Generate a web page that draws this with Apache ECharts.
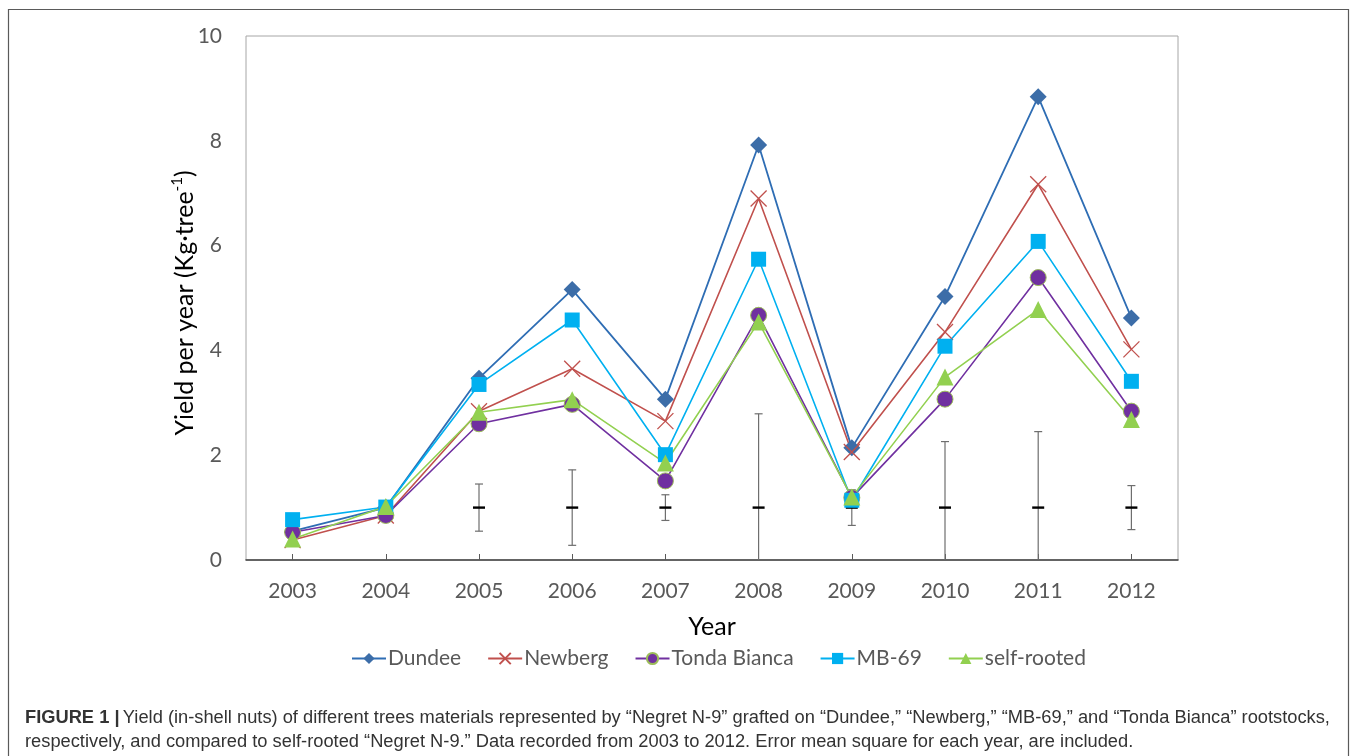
<!DOCTYPE html>
<html>
<head>
<meta charset="utf-8">
<title>Yield per year</title>
<script src="https://cdn.jsdelivr.net/npm/echarts@6/dist/echarts.min.js"></script>
<style>
  html, body { margin: 0; padding: 0; background: #fff; }
  #chart { width: 1357px; height: 756px; }
</style>
</head>
<body>
<div id="chart"></div>
<script>
// Harvest years
const years = ['2003', '2004', '2005', '2006', '2007', '2008', '2009', '2010', '2011', '2012'];

// Yield per year (kg per tree) for each rootstock
const dundee      = [0.55, 1.00, 3.47, 5.16, 3.07, 7.92, 2.14, 5.03, 8.84, 4.62];
const newberg     = [0.38, 0.85, 2.84, 3.65, 2.65, 6.90, 2.06, 4.35, 7.17, 4.02];
const tondaBianca = [0.53, 0.85, 2.60, 2.97, 1.51, 4.67, 1.19, 3.07, 5.39, 2.84];
const mb69        = [0.77, 1.01, 3.35, 4.58, 2.01, 5.74, 1.14, 4.08, 6.08, 3.41];
const selfRooted  = [0.40, 1.02, 2.82, 3.06, 1.85, 4.54, 1.20, 3.49, 4.78, 2.68];

// Error mean square for each year, drawn as a bar around a reference level
const errYears  = ['2005', '2006', '2007', '2008', '2009', '2010', '2011', '2012'];
const errCenter = [1, 1, 1, 1, 1, 1, 1, 1];
const errHalf   = [0.45, 0.72, 0.245, 1.79, 0.34, 1.26, 1.45, 0.42];

// Y axis ticks
const yMin = 0, yMax = 10, yStep = 2;

const chart = echarts.init(document.getElementById('chart'));

const uiFont = 'Lato';
const capFont = '"Liberation Sans", Arial, sans-serif';

function lineSeries(name, values, color, symbol, size, extra) {
  return Object.assign({
    name: name,
    type: 'line',
    data: values,
    symbol: symbol,
    symbolSize: size,
    showAllSymbol: true,
    lineStyle: { color: color, width: 1.6 },
    itemStyle: { color: color },
    emphasis: { disabled: true },
    animation: false
  }, extra || {});
}

const errData = errYears.map((y, i) => [y, errCenter[i], errHalf[i]]);

const option = {
  animation: false,
  backgroundColor: '#ffffff',
  grid: {
    left: 246, right: 179, top: 36, bottom: 196,
    show: true, borderColor: '#a6a6a6', borderWidth: 1
  },
  legend: {
    top: 643,
    left: 346,
    itemWidth: 34,
    itemHeight: 14,
    itemGap: 26,
    textStyle: { fontFamily: uiFont, fontSize: 21, color: '#595959', padding: [0, 0, 0, -3] },
    data: ['Dundee', 'Newberg', 'Tonda Bianca', 'MB-69', 'self-rooted']
  },
  xAxis: {
    type: 'category',
    data: years,
    boundaryGap: true,
    name: 'Year',
    nameLocation: 'middle',
    nameGap: 54,
    nameTextStyle: { fontFamily: uiFont, fontSize: 25, color: '#000' },
    axisLine: { show: true, lineStyle: { color: '#404040', width: 1.5 } },
    axisTick: { show: true, inside: true, alignWithLabel: true, length: 6, lineStyle: { color: '#595959' } },
    axisLabel: { fontFamily: uiFont, fontSize: 21, color: '#595959', margin: 21 },
    splitLine: { show: false }
  },
  yAxis: {
    type: 'value',
    min: yMin, max: yMax, interval: yStep,
    name: '{a|Yield per year (Kg·tree}{s|-1}{a|)}',
    nameLocation: 'middle',
    nameGap: 46,
    nameMoveOverlap: false,
    nameTextStyle: {
      padding: [0, 10, 0, 0],
      rich: {
        a: { fontFamily: uiFont, fontSize: 25, color: '#000', lineHeight: 30 },
        s: { fontFamily: uiFont, fontSize: 15, color: '#000', lineHeight: 30, verticalAlign: 'top', padding: [0, 0, 12, 0] }
      }
    },
    axisLine: { show: false },
    axisTick: { show: false },
    axisLabel: { fontFamily: uiFont, fontSize: 21, color: '#595959', margin: 24 },
    splitLine: { show: false }
  },
  series: [
    {
      name: 'error',
      type: 'custom',
      data: errData,
      z: 1,
      silent: true,
      animation: false,
      renderItem: function (params, api) {
        const x = api.value(0);
        const c = api.value(1);
        const h = api.value(2);
        const top = api.coord([x, c + h]);
        const lowVal = Math.max(c - h, yMin);
        const bot = api.coord([x, lowVal]);
        const mid = api.coord([x, c]);
        const capW = 4;
        const markW = 6;
        const children = [
          { type: 'line', shape: { x1: top[0], y1: top[1], x2: bot[0], y2: bot[1] }, style: { stroke: '#6e6e6e', lineWidth: 1.2 } },
          { type: 'line', shape: { x1: top[0] - capW, y1: top[1], x2: top[0] + capW, y2: top[1] }, style: { stroke: '#6e6e6e', lineWidth: 1.2 } }
        ];
        if (c - h >= yMin) {
          children.push({ type: 'line', shape: { x1: bot[0] - capW, y1: bot[1], x2: bot[0] + capW, y2: bot[1] }, style: { stroke: '#6e6e6e', lineWidth: 1.2 } });
        }
        children.push({ type: 'line', shape: { x1: mid[0] - markW, y1: mid[1], x2: mid[0] + markW, y2: mid[1] }, style: { stroke: '#000', lineWidth: 2.4 } });
        return { type: 'group', children: children };
      }
    },
    lineSeries('Dundee', dundee, '#2E6DB4', 'diamond', 17, {
      itemStyle: { color: '#3C6DA8' }, lineStyle: { color: '#2E6DB4', width: 1.8 }
    }),
    lineSeries('Newberg', newberg, '#C0504D', 'path://M0,0L10,10M10,0L0,10', 16, {
      itemStyle: { color: 'rgba(0,0,0,0)', borderColor: '#C0504D', borderWidth: 1.3 }
    }),
    lineSeries('Tonda Bianca', tondaBianca, '#7030A0', 'circle', 16, {
      itemStyle: { color: '#7030A0', borderColor: '#9BBB59', borderWidth: 1 }
    }),
    lineSeries('MB-69', mb69, '#00B0F0', 'rect', 15),
    lineSeries('self-rooted', selfRooted, '#92D050', 'triangle', 17)
  ],
  graphic: [
    {
      type: 'rect',
      shape: { x: 8.5, y: 9.5, width: 1340, height: 760 },
      style: { fill: 'none', stroke: '#5a5a5a', lineWidth: 1.2 },
      silent: true
    },
    {
      type: 'text',
      left: 25, top: 709,
      style: {
        text: '{b|FIGURE 1 |} {r|Yield (in-shell nuts) of different trees materials represented by \u201cNegret N-9\u201d grafted on \u201cDundee,\u201d \u201cNewberg,\u201d \u201cMB-69,\u201d and \u201cTonda Bianca\u201d rootstocks,}',
        rich: {
          b: { fontFamily: capFont, fontSize: 18.3, fontWeight: 'bold', fill: '#333' },
          r: { fontFamily: capFont, fontSize: 18.3, fill: '#333' }
        }
      },
      silent: true
    },
    {
      type: 'text',
      left: 25, top: 733,
      style: {
        text: 'respectively, and compared to self-rooted \u201cNegret N-9.\u201d Data recorded from 2003 to 2012. Error mean square for each year, are included.',
        fontFamily: capFont, fontSize: 18.3, fill: '#333'
      },
      silent: true
    }
  ]
};

chart.setOption(option);
</script>
</body>
</html>
